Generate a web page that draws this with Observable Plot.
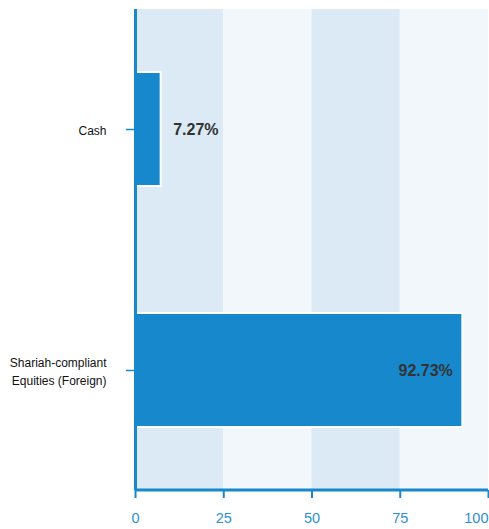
<!DOCTYPE html>
<html>
<head>
<meta charset="utf-8">
<script src="https://cdn.jsdelivr.net/npm/d3@7"></script>
<script src="https://cdn.jsdelivr.net/npm/@observablehq/plot@0.6"></script>
<style>
body{margin:0;background:#fff;font-family:"Liberation Sans",Arial,sans-serif;}
</style>
</head>
<body>
<div id="chart"></div>
<script>
const categories = ["Cash", "Shariah-compliant Equities (Foreign)"];
const displayLabels = ["Cash", "Shariah-compliant\nEquities (Foreign)"];
const values = [7.27, 92.73];
const valueLabels = ["7.27%", "92.73%"];
const xTicks = [0, 25, 50, 75, 100];
const bandStarts = [0, 25, 50, 75];
const bandEnds = [25, 50, 75, 100];

const blue = "#1788cc";
const data = categories.map((c, i) => ({cat: c, value: values[i], label: valueLabels[i]}));
const bands = bandStarts.map((s, i) => ({x1: s, x2: bandEnds[i], i}));
const labelMap = new Map(categories.map((c, i) => [c, displayLabels[i]]));

const W = 489, H = 529, mt = 9, mb = 39;
const chart = Plot.plot({
  width: W,
  height: H,
  marginTop: mt,
  marginBottom: mb,
  marginLeft: 135,
  marginRight: 1,
  style: {fontFamily: "Liberation Sans, Arial, sans-serif", background: "#fff"},
  x: {domain: [0, 100]},
  y: {domain: categories, paddingInner: 0.525, paddingOuter: 0.26},
  marks: [
    Plot.rect(bands, {x1: "x1", x2: "x2", fill: d => d.i % 2 === 0 ? "#dbeaf5" : "#f2f7fc"}),
    Plot.barX(data, {x: "value", y: "cat", fill: blue, stroke: "#fff", strokeWidth: 2}),
    Plot.ruleX([0], {stroke: blue, strokeWidth: 3}),
    Plot.rect([0], {x1: 0, x2: 100, fill: blue, insetTop: H - mt - mb - 1.5, insetBottom: -1.5}),
    Plot.text(data.filter(d => d.value < 50), {x: "value", y: "cat", text: "label", textAnchor: "start", dx: 12, fill: "#333", fontWeight: "bold", fontSize: 16}),
    Plot.text(data.filter(d => d.value >= 50), {x: "value", y: "cat", text: "label", textAnchor: "end", dx: -10, fill: "#333", fontWeight: "bold", fontSize: 16}),
    Plot.axisY({tickSize: 9, tickPadding: 20, stroke: blue, strokeWidth: 1.5, fill: "#111", fontSize: 12, lineHeight: 1.45, label: null, tickFormat: d => labelMap.get(d)}),
    Plot.axisX(xTicks.filter(t => t < 100), {tickSize: 8, tickPadding: 14, stroke: blue, strokeWidth: 2, fill: "#2e90d1", fontSize: 14.5, label: null}),
    Plot.axisX([100], {tickSize: 8, tickPadding: 14, stroke: blue, strokeWidth: 2, fill: "#2e90d1", fontSize: 14.5, label: null, textAnchor: "end", dx: 0})
  ]
});
document.getElementById("chart").appendChild(chart);
</script>
</body>
</html>
